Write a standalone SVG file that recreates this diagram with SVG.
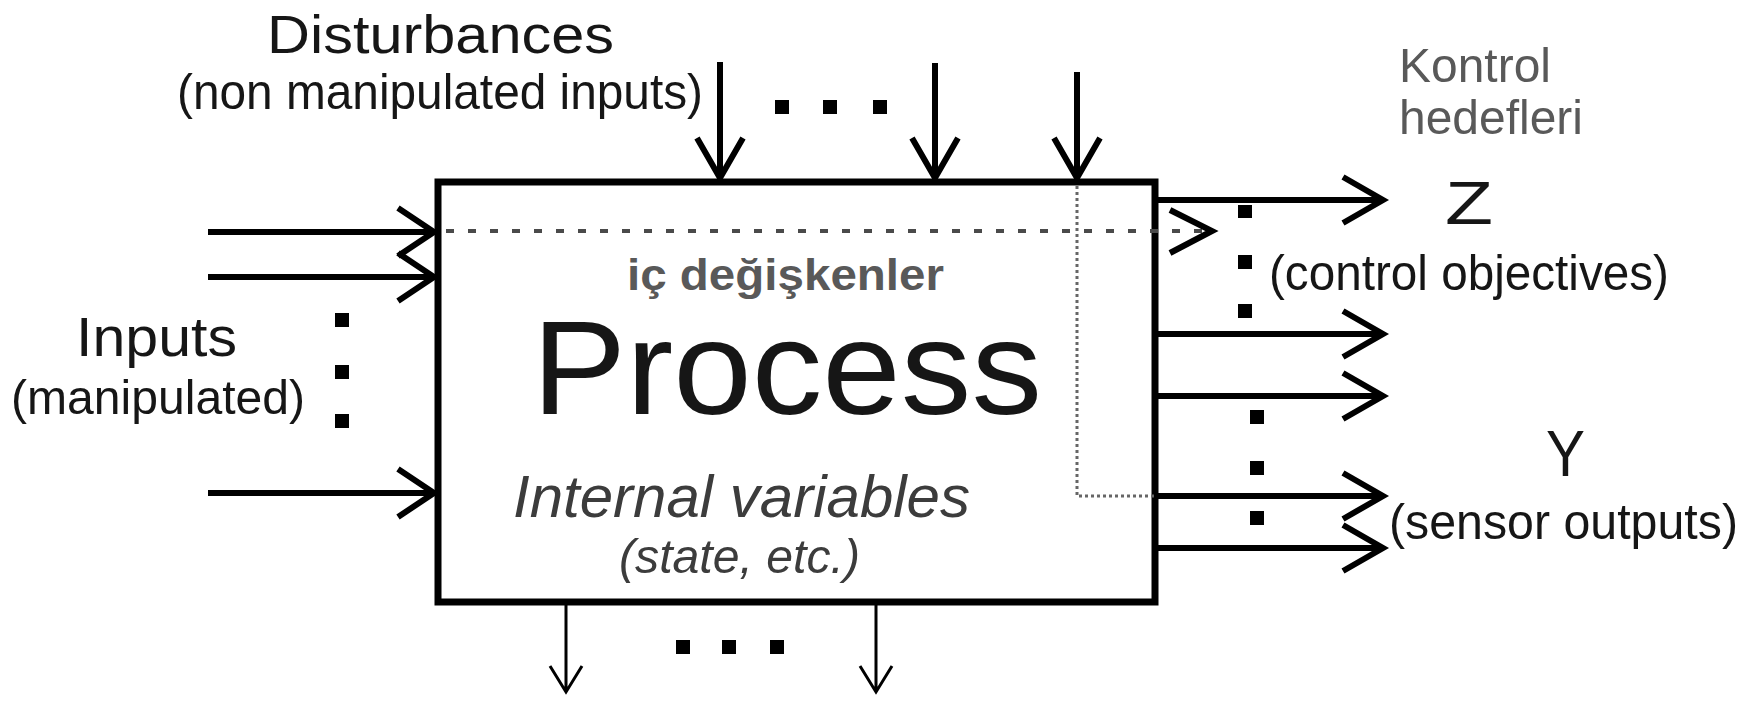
<svg xmlns="http://www.w3.org/2000/svg" width="1756" height="702" viewBox="0 0 1756 702">
  <style>
    text { font-family: "Liberation Sans", Arial, sans-serif; }
    .lbl { fill: #161616; }
    .grey { fill: #595959; }
    .ital { fill: #3c3c3c; font-style: italic; }
    .box { fill: #ffffff; stroke: #000; stroke-width: 7; }
    .arr { fill: none; stroke: #000; stroke-width: 6; stroke-linecap: butt; stroke-linejoin: miter; }
    .thin { fill: none; stroke: #000; stroke-width: 3; }
    .dash { fill: none; stroke: #4a4a4a; stroke-width: 4; stroke-dasharray: 8 14; }
    .dot { fill: none; stroke: #666; stroke-width: 3; stroke-dasharray: 3 3; }
    .sq { fill: #000; }
  </style>

  <!-- process block -->
  <g id="process">
    <rect class="box" x="438" y="182" width="717" height="420"/>
    <text class="grey" x="627" y="290" font-size="45" font-weight="bold" textLength="317" lengthAdjust="spacingAndGlyphs">iç değişkenler</text>
    <text class="lbl" x="532" y="414" font-size="134" textLength="510" lengthAdjust="spacingAndGlyphs">Process</text>
    <text class="ital" x="513" y="517" font-size="59" textLength="457" lengthAdjust="spacingAndGlyphs">Internal variables</text>
    <text class="ital" x="619" y="573" font-size="48" textLength="241" lengthAdjust="spacingAndGlyphs">(state, etc.)</text>
  </g>

  <!-- labels -->
  <g id="disturbances">
    <text class="lbl" x="267" y="53" font-size="53" textLength="347" lengthAdjust="spacingAndGlyphs">Disturbances</text>
    <text class="lbl" x="177" y="109" font-size="50" textLength="526" lengthAdjust="spacingAndGlyphs">(non manipulated inputs)</text>
  </g>
  <g id="inputs">
    <text class="lbl" x="76" y="356" font-size="55" textLength="161" lengthAdjust="spacingAndGlyphs">Inputs</text>
    <text class="lbl" x="11" y="414" font-size="49" textLength="294" lengthAdjust="spacingAndGlyphs">(manipulated)</text>
  </g>
  <g id="kontrol-hedefleri">
    <text class="grey" x="1399" y="82" font-size="49" textLength="152" lengthAdjust="spacingAndGlyphs">Kontrol</text>
    <text class="grey" x="1399" y="134" font-size="49" textLength="184" lengthAdjust="spacingAndGlyphs">hedefleri</text>
  </g>
  <g id="z-outputs">
    <text class="lbl" x="1445" y="224" font-size="62" textLength="48" lengthAdjust="spacingAndGlyphs">Z</text>
    <text class="lbl" x="1269" y="290" font-size="50" textLength="400" lengthAdjust="spacingAndGlyphs">(control objectives)</text>
  </g>
  <g id="y-outputs">
    <text class="lbl" x="1546" y="476" font-size="65" textLength="39" lengthAdjust="spacingAndGlyphs">Y</text>
    <text class="lbl" x="1389" y="539" font-size="50" textLength="349" lengthAdjust="spacingAndGlyphs">(sensor outputs)</text>
  </g>

  <!-- connectors -->
  <g id="connectors">
    <!-- manipulated inputs -->
    <path class="arr" d="M208 232H434M398 208L434 232L398 256"/>
    <path class="arr" d="M208 277H434M398 253L434 277L398 301"/>
    <path class="arr" d="M208 493H434M398 469L434 493L398 517"/>
    <!-- disturbances -->
    <path class="arr" d="M720 62V178M697 138L720 178L743 138"/>
    <path class="arr" d="M935 63V178M912 138L935 178L958 138"/>
    <path class="arr" d="M1077 72V178M1054 138L1077 178L1100 138"/>
    <!-- outputs -->
    <path class="arr" d="M1158 200H1383M1343 177L1383 200L1343 223"/>
    <path class="arr" d="M1158 334H1383M1343 311L1383 334L1343 357"/>
    <path class="arr" d="M1158 396H1383M1343 373L1383 396L1343 419"/>
    <path class="arr" d="M1158 496H1383M1343 473L1383 496L1343 519" stroke="#2a2a2a"/>
    <path class="arr" d="M1158 548H1383M1343 525L1383 548L1343 571"/>
    <!-- internal variable taps -->
    <path class="dash" d="M446 231H1206"/>
    <path class="arr" d="M1170 210L1212 231L1170 253"/>
    <path class="dot" d="M1077 186V496H1155"/>
    <!-- lower outflows -->
    <path class="thin" d="M566 605V692M550 666L566 692L582 666"/>
    <path class="thin" d="M876 605V692M860 666L876 692L892 666"/>
  </g>

  <!-- ellipsis markers -->
  <g id="ellipses">
    <rect class="sq" x="335" y="313" width="14" height="14"/>
    <rect class="sq" x="335" y="365" width="14" height="14"/>
    <rect class="sq" x="335" y="414" width="14" height="14"/>
    <rect class="sq" x="775" y="100" width="14" height="14"/>
    <rect class="sq" x="823" y="100" width="14" height="14"/>
    <rect class="sq" x="873" y="100" width="14" height="14"/>
    <rect class="sq" x="1238" y="205" width="14" height="13"/>
    <rect class="sq" x="1238" y="255" width="14" height="14"/>
    <rect class="sq" x="1238" y="304" width="14" height="14"/>
    <rect class="sq" x="1250" y="410" width="14" height="14"/>
    <rect class="sq" x="1250" y="461" width="14" height="14"/>
    <rect class="sq" x="1250" y="511" width="14" height="14"/>
    <rect class="sq" x="676" y="640" width="14" height="14"/>
    <rect class="sq" x="722" y="640" width="14" height="14"/>
    <rect class="sq" x="770" y="640" width="14" height="14"/>
  </g>
</svg>
